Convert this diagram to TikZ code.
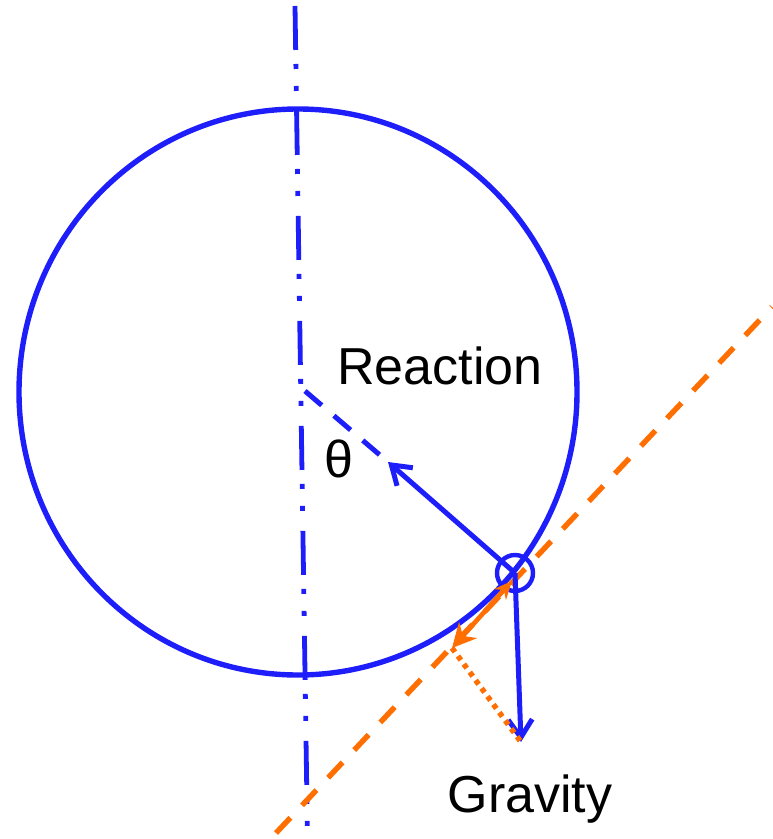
\documentclass[tikz,border=0pt]{standalone}
\usepackage{fontspec}
\setmainfont{Liberation Sans}
\usepackage{tikz}
\usetikzlibrary{arrows.meta}
\definecolor{ballblue}{RGB}{30,30,250}
\definecolor{slopeorange}{RGB}{255,110,0}

\begin{document}
\begin{tikzpicture}[
x=0.5pt, y=-0.5pt,
lbl/.style={anchor=base, inner sep=0pt, font=\fontsize{26}{30}\selectfont},
ball/.style={draw=ballblue, line width=2.7pt},
axis/.style={draw=ballblue, line width=2.4pt, dash pattern=on 22pt off 7pt on 2.5pt off 8.5pt on 2.5pt off 10pt},
force/.style={draw=ballblue, line width=2.5pt, -{Straight Barb[length=9pt, width=12pt, line width=2.5pt]}},
radial/.style={draw=ballblue, line width=2.5pt, dash pattern=on 11pt off 8pt},
slope/.style={draw=slopeorange, line width=2.7pt, dash pattern=on 10.5pt off 8.5pt},
comp/.style={draw=slopeorange, line width=2.3pt, {Stealth[length=9pt, width=8pt]}-{Stealth[length=12pt, width=12pt]}},
proj/.style={draw=slopeorange, line width=2.7pt, dash pattern=on 2.5pt off 2.5pt}
]
\useasboundingbox (0,0) rectangle (772,839);
\coordinate (ctr) at (298,392);
\coordinate (touch) at (515,573);
\coordinate (rtip) at (388,462);
\coordinate (gtip) at (521,742);
\coordinate (ftip) at (452,648);
\coordinate (fend) at (512,581);
\coordinate (axtop) at (295,6);
\coordinate (axbot) at (307.5,839);
\coordinate (slbot) at (276,833);
\coordinate (sltop) at (772,307);
\draw[ball] (ctr) ellipse [x radius=279, y radius=283];
\draw[axis] (axtop) -- (axbot);
\draw[slope] (slbot) -- (sltop);
\draw[radial] (305,391) -- (rtip);
\draw[force] (touch) -- (rtip);
\draw[force] (touch) -- (gtip);
\draw[ball, line width=2.2pt] (touch) circle [radius=18];
\draw[proj] (ftip) -- (gtip);
\draw[comp] (fend) -- (ftip);
\node[lbl] (reac) at (440,384) {Reaction};
\node[lbl] (ang) at (339,477) {θ};
\node[lbl] (grav) at (530,812) {Gravity};
\end{tikzpicture}
\end{document}
